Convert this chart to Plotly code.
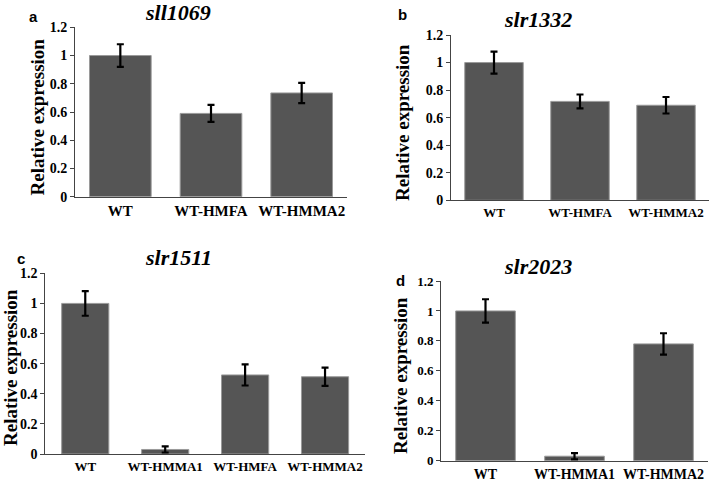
import plotly.graph_objects as go

# ---------------- data ----------------
genes = ["sll1069", "slr1332", "slr1511", "slr2023"]
panel_letters = ["a", "b", "c", "d"]

cats_a = ["WT", "WT-HMFA", "WT-HMMA2"]
vals_a = [1.0, 0.59, 0.735]
errs_a = [0.08, 0.06, 0.072]

cats_b = ["WT", "WT-HMFA", "WT-HMMA2"]
vals_b = [1.0, 0.718, 0.69]
errs_b = [0.08, 0.05, 0.06]

cats_c = ["WT", "WT-HMMA1", "WT-HMFA", "WT-HMMA2"]
vals_c = [1.0, 0.03, 0.525, 0.513]
errs_c = [0.082, 0.02, 0.07, 0.06]

cats_d = ["WT", "WT-HMMA1", "WT-HMMA2"]
vals_d = [1.0, 0.03, 0.78]
errs_d = [0.078, 0.021, 0.071]

y_ticks = [0, 0.2, 0.4, 0.6, 0.8, 1.0, 1.2]
y_title = "Relative expression"

# ---------------- layout geometry (pixels) ----------------
W, H = 710, 484
# (x_left, x_right, y_zero_px, y_top_px)
boxes = [
    (75, 347, 196.7, 27.3),
    (451, 709, 200.3, 35.0),
    (45.3, 365, 454.0, 273.3),
    (441, 708, 460.7, 281.0),
]
bar_widths = [0.68, 0.68, 0.59, 0.67]
xtick_sizes = [15, 13, 13, 14]
ytick_sizes = [14, 14, 14, 13]
title_pos = [(178, 13), (538, 20), (178, 257), (538, 266)]
letter_pos = [(33, 16), (402, 15), (21, 258), (400, 280)]
ytitle_pos = [(37, 117.5), (402, 123), (10, 368), (400, 376)]

panels = [(cats_a, vals_a, errs_a), (cats_b, vals_b, errs_b),
          (cats_c, vals_c, errs_c), (cats_d, vals_d, errs_d)]

SERIF = "Liberation Serif"
SANS = "Liberation Sans"
BAR = "#555555"
AXIS = "#444444"

fig = go.Figure()
annotations = []
for i, (cats, vals, errs) in enumerate(panels):
    n = "" if i == 0 else str(i + 1)
    xl, xr, y0, yt = boxes[i]
    fig.add_trace(go.Bar(
        x=cats, y=vals,
        xaxis="x" + n, yaxis="y" + n,
        width=bar_widths[i],
        marker=dict(color=BAR, line=dict(color="#9a9a9a", width=1)),
        error_y=dict(type="data", array=errs, visible=True,
                     color="black", thickness=2.2, width=3.5),
        showlegend=False,
    ))
    fig.layout["xaxis" + n] = dict(
        domain=[xl / W, xr / W], anchor="y" + n, automargin=False,
        showline=True, linecolor=AXIS, linewidth=1,
        ticks="", showgrid=False, zeroline=False,
        tickfont=dict(family=SERIF, size=xtick_sizes[i], color="black", weight="bold"),
        ticklabeloverflow="allow",
        fixedrange=True,
    )
    fig.layout["yaxis" + n] = dict(
        domain=[(H - y0) / H, (H - yt) / H], anchor="x" + n, automargin=False,
        range=[0, 1.2], tickvals=y_ticks,
        showline=True, linecolor=AXIS, linewidth=1,
        ticks="outside", ticklen=4, tickcolor=AXIS, tickwidth=1,
        showgrid=False, zeroline=False,
        tickfont=dict(family=SERIF, size=ytick_sizes[i], color="black", weight="bold"),
        fixedrange=True,
    )
    tx, ty = title_pos[i]
    annotations.append(dict(
        text="<i>%s</i>" % genes[i], x=tx / W, y=1 - ty / H,
        xref="paper", yref="paper", xanchor="center", yanchor="middle",
        showarrow=False, font=dict(family=SERIF, size=22, color="black", weight="bold")))
    lx, ly = letter_pos[i]
    annotations.append(dict(
        text=panel_letters[i], x=lx / W, y=1 - ly / H,
        xref="paper", yref="paper", xanchor="center", yanchor="middle",
        showarrow=False, font=dict(family=SANS, size=15, color="black", weight="bold")))
    ax_, ay_ = ytitle_pos[i]
    annotations.append(dict(
        text="<b>" + y_title + "</b>", x=ax_ / W, y=1 - ay_ / H,
        xref="paper", yref="paper", xanchor="center", yanchor="middle",
        textangle=-90, showarrow=False,
        font=dict(family=SERIF, size=19, color="black")))

fig.update_layout(
    width=W, height=H,
    margin=dict(l=0, r=0, t=0, b=0),
    paper_bgcolor="white", plot_bgcolor="white",
    annotations=annotations,
    template="none",
)

fig.write_html(
    "out.html",
    config={"displayModeBar": False},
    post_script="document.body.style.margin='0';document.body.style.padding='0';"
                "document.body.style.overflow='hidden';",
)
